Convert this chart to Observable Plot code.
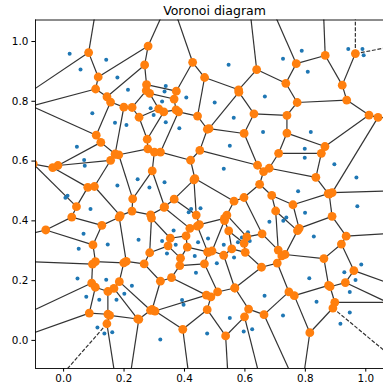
<!DOCTYPE html>
<html><head><meta charset="utf-8">
<script src="https://cdn.jsdelivr.net/npm/d3@7"></script>
<script src="https://cdn.jsdelivr.net/npm/@observablehq/plot@0.6"></script>
<style>body{margin:0;background:#fff}</style>
</head><body><div id="chart"></div>
<script>
// Input points (blue)
const px = [0.020,0.141,0.056,0.178,0.213,0.095,0.170,0.208,0.546,0.338,
            0.334,0.406,0.326,0.500,0.288,0.298,0.563,0.338,0.383,0.666,
            0.660,0.788,0.726,0.942,0.989,0.993,0.808,0.818,0.044,0.068,
            0.070,0.245,0.178,0.284,0.006,0.013,0.089,0.066,0.146,0.050,
            0.248,0.550,0.530,0.334,0.422,0.453,0.414,0.364,0.326,0.371,
            0.445,0.478,0.530,0.577,0.590,0.610,0.616,0.342,0.434,0.564,
            0.798,0.798,0.896,0.969,0.776,0.972,0.799,0.737,0.727,0.681,
            0.828,0.046,0.141,0.226,0.075,0.118,0.175,0.201,0.112,0.135,
            0.161,0.438,0.507,0.392,0.397,0.320,0.475,0.550,0.596,0.624,
            0.665,0.985,0.929,0.966,0.813,0.947,0.837,0.726,0.947,0.916];
const py = [0.959,0.939,0.906,0.880,0.839,0.760,0.728,0.721,0.922,0.851,
            0.833,0.813,0.799,0.796,0.777,0.754,0.745,0.730,0.710,0.816,
            0.697,0.969,0.942,0.975,0.975,0.954,0.899,0.697,0.648,0.604,
            0.584,0.539,0.518,0.512,0.477,0.484,0.440,0.357,0.321,0.307,
            0.337,0.651,0.574,0.529,0.440,0.442,0.429,0.368,0.333,0.320,
            0.328,0.341,0.320,0.328,0.344,0.362,0.333,0.291,0.282,0.277,
            0.641,0.611,0.589,0.545,0.499,0.449,0.427,0.411,0.400,0.397,
            0.348,0.207,0.203,0.183,0.146,0.136,0.136,0.156,0.043,0.023,
            0.027,0.226,0.258,0.135,0.119,0.003,0.023,0.075,0.030,0.037,
            0.149,0.254,0.228,0.202,0.208,0.162,0.129,0.083,0.093,0.056];
const xTicks = [0.0, 0.2, 0.4, 0.6, 0.8, 1.0];
const yTicks = [0.0, 0.2, 0.4, 0.6, 0.8, 1.0];
const titleText = "Voronoi diagram";

const xDomain = [-0.093, 1.0586];
const yDomain = [-0.094, 1.072];

// Voronoi geometry computed by d3-delaunay from the points
const points = px.map((x, i) => [x, py[i]]);
const delaunay = d3.Delaunay.from(points);
const vor = delaunay.voronoi([-100, -100, 100, 100]);
const cc = vor.circumcenters;
const {triangles, halfedges} = delaunay;
const nT = triangles.length / 3;
const vertices = d3.range(nT).map(t => ({x: cc[2*t], y: cc[2*t+1]}));

const cx = d3.mean(px), cy = d3.mean(py);
const ptpX = d3.max(px) - d3.min(px), ptpY = d3.max(py) - d3.min(py);
const ptpMax = Math.max(ptpX, ptpY), aspect = Math.abs(ptpMax / Math.min(ptpX, ptpY));

const finite = [], infinite = [];
for (let e = 0; e < triangles.length; e++) {
  const o = halfedges[e];
  const t = Math.floor(e / 3);
  if (o > e) {
    const u = Math.floor(o / 3);
    finite.push({x1: cc[2*t], y1: cc[2*t+1], x2: cc[2*u], y2: cc[2*u+1]});
  } else if (o === -1) {
    const i = triangles[e], j = triangles[e % 3 === 2 ? e - 2 : e + 1];
    let tx = px[j] - px[i], ty = py[j] - py[i];
    const nrm = Math.hypot(tx, ty); tx /= nrm; ty /= nrm;
    const nx = -ty, ny = tx;
    const mx = (px[i] + px[j]) / 2, my = (py[i] + py[j]) / 2;
    const s = Math.sign((mx - cx) * nx + (my - cy) * ny);
    const vx = cc[2*t], vy = cc[2*t+1];
    infinite.push({x1: vx, y1: vy, x2: vx + s*nx*ptpMax*aspect, y2: vy + s*ny*ptpMax*aspect});
  }
}

const chart = Plot.plot({
  width: 383,
  height: 387,
  marginLeft: 35,
  marginRight: 0,
  marginTop: 19.5,
  marginBottom: 19,
  style: {fontFamily: "DejaVu Sans, sans-serif", fontSize: "10.4px", color: "#000", background: "#fff"},
  x: {domain: xDomain},
  y: {domain: yDomain},
  marks: [
    Plot.link(finite, {x1: "x1", y1: "y1", x2: "x2", y2: "y2", stroke: "#333", strokeWidth: 1.2, clip: true}),
    Plot.link(infinite, {x1: "x1", y1: "y1", x2: "x2", y2: "y2", stroke: "#333", strokeWidth: 1.2, strokeDasharray: "3.9,1.7", clip: true}),
    Plot.dot(points, {x: d => d[0], y: d => d[1], r: 2, fill: "#1f77b4", clip: true}),
    Plot.dot(vertices, {x: "x", y: "y", r: 4.4, fill: "#ff7f0e", clip: true}),
    Plot.ruleX([xDomain[0]], {stroke: "#000", strokeWidth: 0.9}),
    Plot.ruleY([yDomain[0], yDomain[1]], {stroke: "#000", strokeWidth: 0.9}),
    Plot.axisX({ticks: xTicks, tickSize: 3.6, tickPadding: 3, tickFormat: d => d.toFixed(1), label: null, stroke: "#000"}),
    Plot.axisY({ticks: yTicks, tickSize: 3.6, tickPadding: 3.5, tickFormat: d => d.toFixed(1), label: null, stroke: "#000"}),
    Plot.text([titleText], {frameAnchor: "top", dx: 5, dy: -5, lineAnchor: "bottom", fontSize: 12.5, fill: "#000"})
  ]
});
document.getElementById("chart").appendChild(chart);
</script>
</body></html>
